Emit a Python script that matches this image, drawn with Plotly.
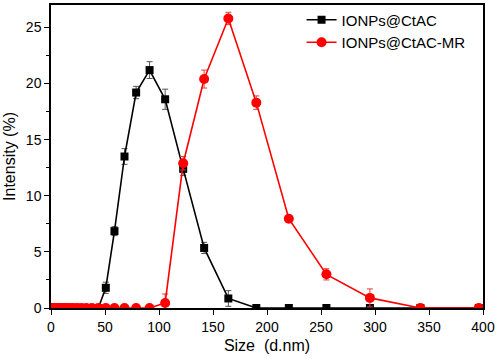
import plotly.graph_objects as go

sizes = [0.4, 0.4632, 0.5365, 0.6213, 0.7195, 0.8332, 0.9649, 1.117, 1.294, 1.499,
         1.736, 2.01, 2.328, 2.696, 3.122, 3.615, 4.187, 4.849, 5.615, 6.503,
         7.531, 8.721, 10.1, 11.7, 13.54, 15.69, 18.17, 21.04, 24.36, 28.21,
         32.67, 37.84, 43.82, 50.75, 58.77, 68.06, 78.82, 91.28, 105.7, 122.4,
         141.8, 164.2, 190.1, 220.2, 255.0, 295.3, 342.0, 396.1]

n_low = 33  # bins up to 43.82 nm
ctac = [0.0] * n_low + [1.8, 6.85, 13.5, 19.2, 21.2, 18.6, 12.4, 5.35, 0.85,
                        0.0, 0.0, 0.0, 0.0, 0.0, 0.0]
ctac_err = [0.0] * n_low + [0.5, 0.4, 0.7, 0.55, 0.75, 0.9, 0.6, 0.5, 0.7,
                            0.0, 0.0, 0.0, 0.0, 0.0, 0.0]

ctac_mr = [0.0] * n_low + [0.0, 0.0, 0.0, 0.0, 0.0, 0.45, 12.9, 20.4, 25.8,
                           18.3, 7.95, 3.0, 0.9, 0.0, 0.0]
ctac_mr_err = [0.0] * n_low + [0.0, 0.0, 0.0, 0.0, 0.0, 0.8, 0.6, 0.8, 0.55,
                               0.6, 0.3, 0.5, 0.8, 0.0, 0.0]

names = ["IONPs@CtAC", "IONPs@CtAC-MR"]

fig = go.Figure()
fig.add_trace(go.Scatter(
    x=sizes, y=ctac, name=names[0], mode="lines+markers",
    line=dict(color="black", width=1.6),
    marker=dict(symbol="square", size=8, color="black"),
    error_y=dict(type="data", array=ctac_err, color="#555555", thickness=1, width=3),
))
fig.add_trace(go.Scatter(
    x=sizes, y=ctac_mr, name=names[1], mode="lines+markers",
    line=dict(color="#ff0000", width=1.6),
    marker=dict(symbol="circle", size=10, color="#ff0000"),
    error_y=dict(type="data", array=ctac_mr_err, color="#e04040", thickness=1, width=3),
))

fig.update_layout(
    width=498, height=359,
    margin=dict(l=51, r=15, t=3, b=51),
    paper_bgcolor="white", plot_bgcolor="white",
    font=dict(family="Liberation Sans, Arial", size=14, color="black"),
    showlegend=True,
    legend=dict(x=0.58, y=1.005, xanchor="left", yanchor="top",
                bgcolor="rgba(0,0,0,0)", font=dict(size=15),
                itemwidth=30, tracegroupgap=0),
    xaxis=dict(
        range=[0, 400], tickvals=[0, 50, 100, 150, 200, 250, 300, 350, 400],
        showline=True, linecolor="black", linewidth=1.5, mirror=True,
        ticks="outside", ticklen=5, tickwidth=1.2, tickcolor="black",
        showgrid=False, zeroline=False,
        title=dict(text="Size  (d.nm)", font=dict(size=16), standoff=6),
    ),
    yaxis=dict(
        range=[0, 27], tickvals=[0, 5, 10, 15, 20, 25],
        showline=True, linecolor="black", linewidth=1.5, mirror=True,
        ticks="outside", ticklen=5, tickwidth=1.2, tickcolor="black",
        minor=dict(tickvals=[2.5, 7.5, 12.5, 17.5, 22.5], ticks="outside",
                   ticklen=3, tickcolor="black"),
        showgrid=False, zeroline=False,
        title=dict(text="Intensity (%)", font=dict(size=16), standoff=6),
    ),
)

fig.write_html("out.html", config={"displayModeBar": False},
               post_script="document.body.style.margin='0';")
